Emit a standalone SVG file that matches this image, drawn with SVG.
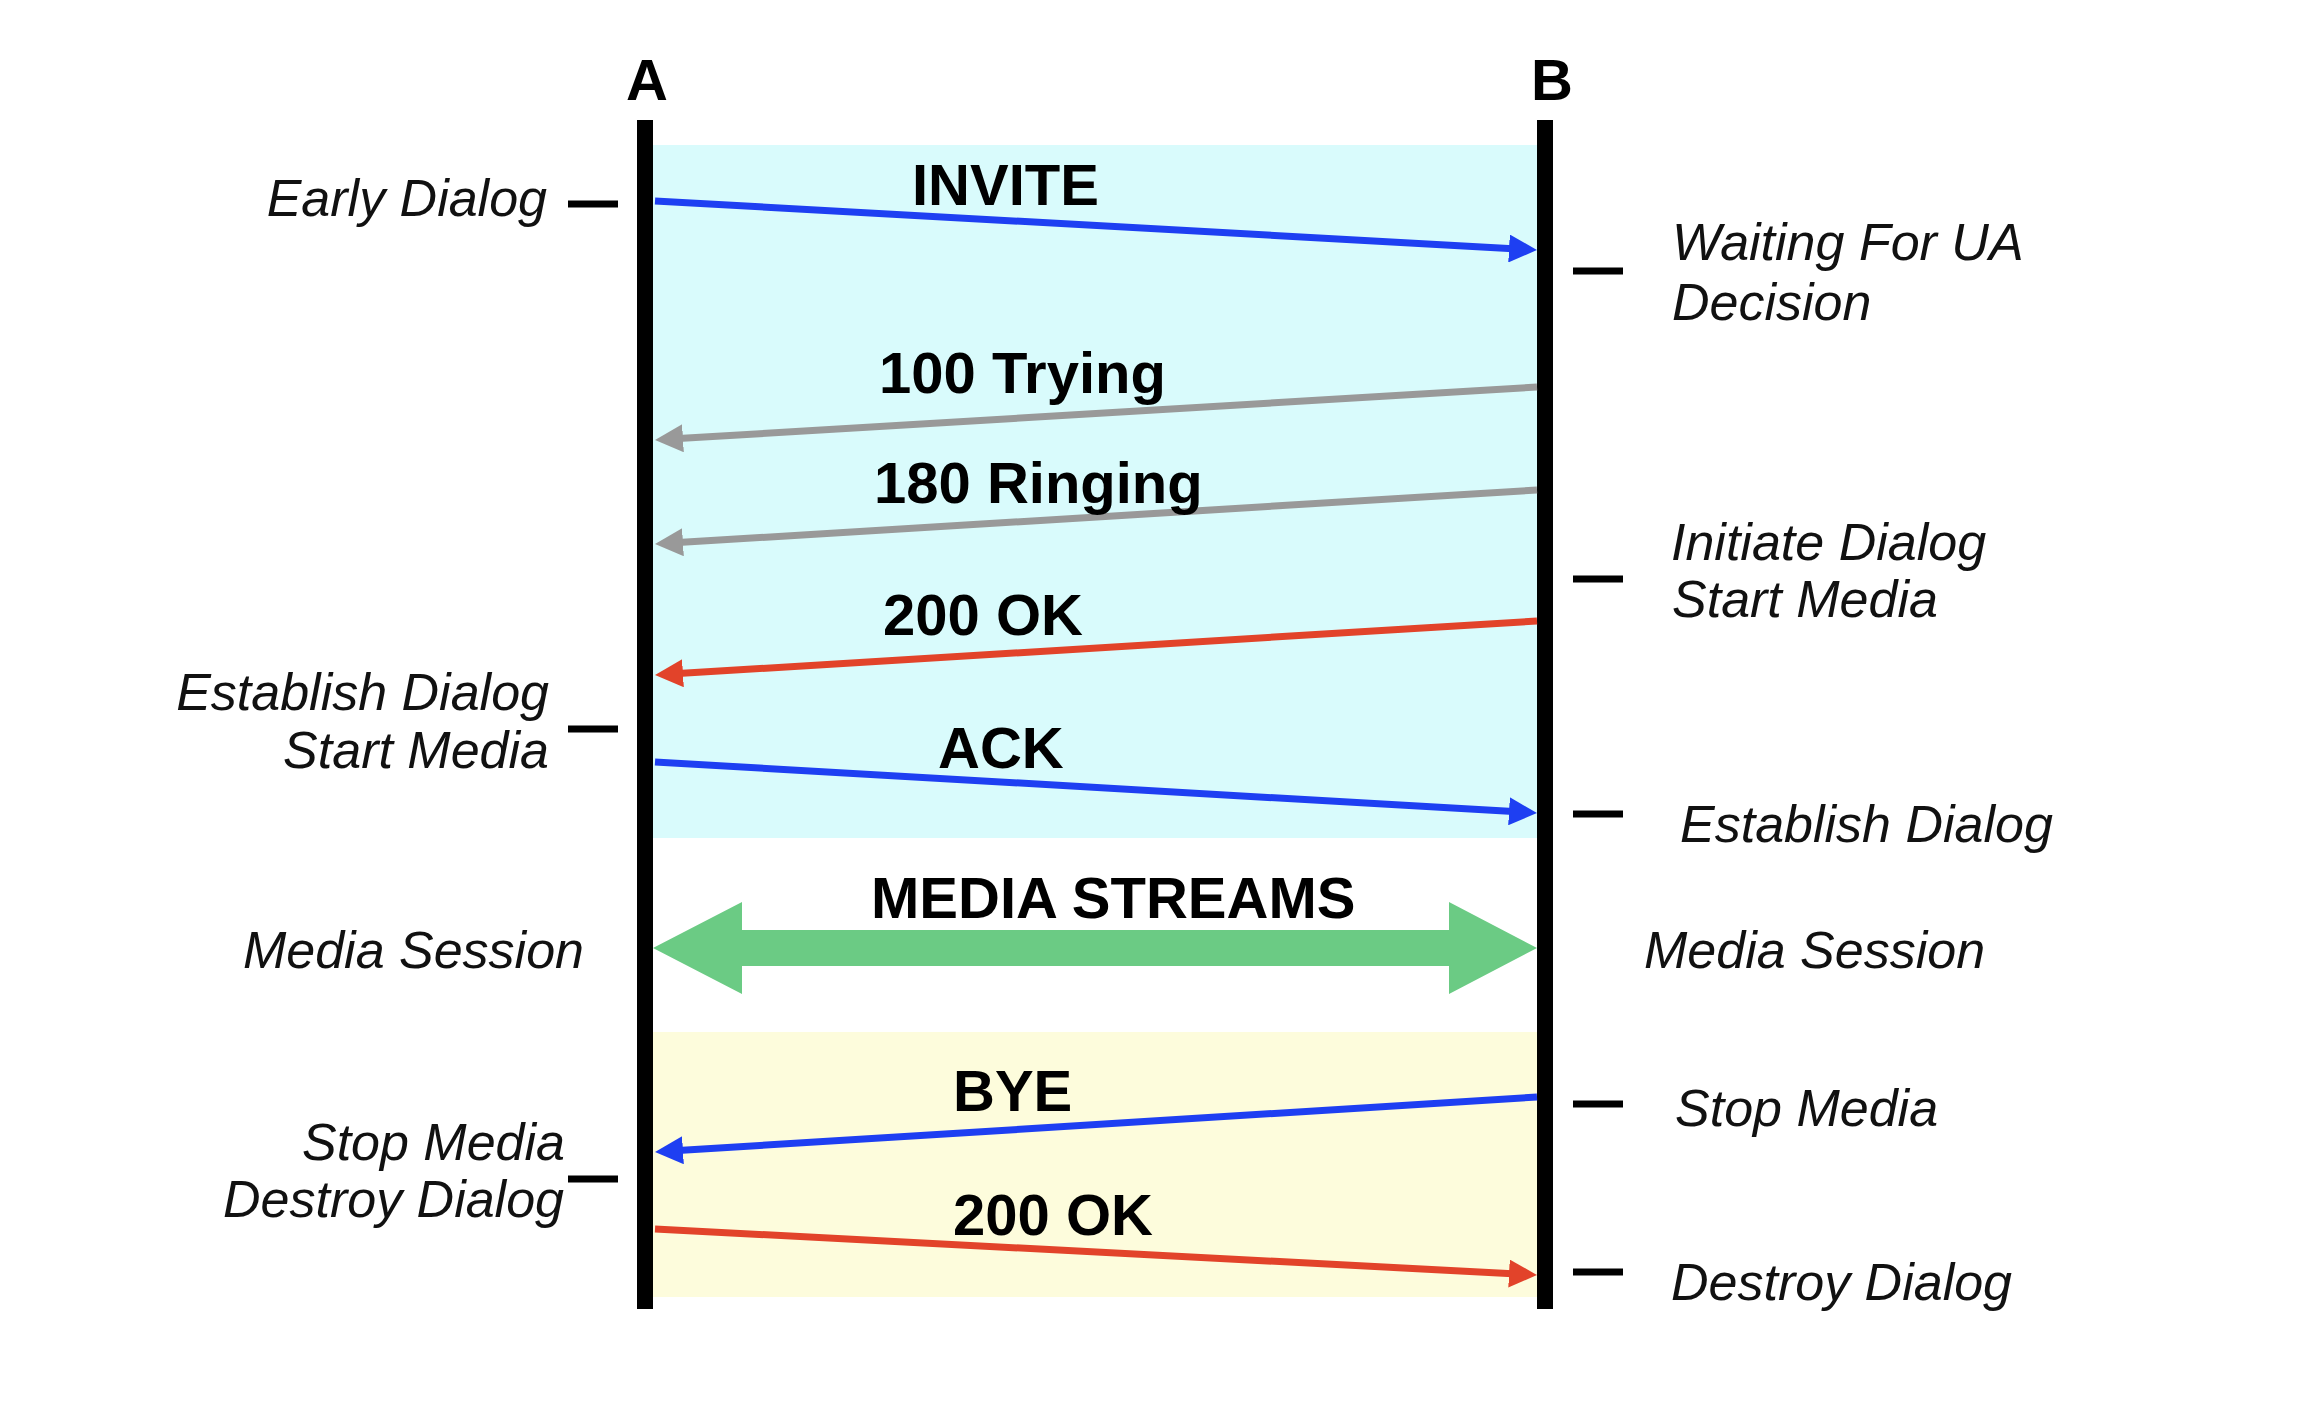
<svg xmlns="http://www.w3.org/2000/svg" width="2306" height="1418" viewBox="0 0 2306 1418">
<style>
.msg{font-family:"Liberation Sans",Arial,sans-serif;font-weight:bold;font-size:58px;fill:#000}
.hdr{font-family:"Liberation Sans",Arial,sans-serif;font-weight:bold;font-size:58px;fill:#000;text-anchor:middle}
.st{font-family:"Liberation Sans",Arial,sans-serif;font-style:italic;font-size:52px;fill:#111}
.end{text-anchor:end}
.life{fill:#000}
.tick{stroke:#000;stroke-width:7}
.arr{fill:none;stroke-width:7}
</style>
<defs>
<marker id="hBlue" markerUnits="userSpaceOnUse" markerWidth="28" markerHeight="28" refX="13" refY="14" orient="auto"><path d="M0,0 L28,14 L0,28 Z" fill="#1e3ff2"/></marker>
<marker id="hGray" markerUnits="userSpaceOnUse" markerWidth="28" markerHeight="28" refX="13" refY="14" orient="auto"><path d="M0,0 L28,14 L0,28 Z" fill="#999999"/></marker>
<marker id="hRed" markerUnits="userSpaceOnUse" markerWidth="28" markerHeight="28" refX="13" refY="14" orient="auto"><path d="M0,0 L28,14 L0,28 Z" fill="#e2432a"/></marker>
</defs>
<rect width="2306" height="1418" fill="#fff"/>
<g id="bands">
<rect x="653" y="145" width="884" height="693" fill="#d9fbfc"/>
<rect x="653" y="1032" width="884" height="265" fill="#fdfcdc"/>
</g>
<g id="nodeA">
<text class="hdr" x="647" y="100">A</text>
<rect class="life" x="637" y="120" width="16" height="1189"/>
</g>
<g id="nodeB">
<text class="hdr" x="1552" y="100">B</text>
<rect class="life" x="1537" y="120" width="16" height="1189"/>
</g>
<g id="statesA">
<line class="tick" x1="568" y1="204" x2="618" y2="204"/>
<text class="st end" x="547" y="216">Early Dialog</text>
<line class="tick" x1="568" y1="729" x2="618" y2="729"/>
<text class="st end" x="549" y="710">Establish Dialog</text>
<text class="st end" x="549" y="768">Start Media</text>
<text class="st end" x="584" y="968">Media Session</text>
<line class="tick" x1="568" y1="1179" x2="618" y2="1179"/>
<text class="st end" x="565" y="1160">Stop Media</text>
<text class="st end" x="564" y="1217">Destroy Dialog</text>
</g>
<g id="statesB">
<line class="tick" x1="1573" y1="271" x2="1623" y2="271"/>
<text class="st" x="1672" y="260">Waiting For UA</text>
<text class="st" x="1672" y="320">Decision</text>
<line class="tick" x1="1573" y1="579" x2="1623" y2="579"/>
<text class="st" x="1671" y="560">Initiate Dialog</text>
<text class="st" x="1672" y="617">Start Media</text>
<line class="tick" x1="1573" y1="814" x2="1623" y2="814"/>
<text class="st" x="1680" y="842">Establish Dialog</text>
<text class="st" x="1644" y="968">Media Session</text>
<line class="tick" x1="1573" y1="1104" x2="1623" y2="1104"/>
<text class="st" x="1675" y="1126">Stop Media</text>
<line class="tick" x1="1573" y1="1272" x2="1623" y2="1272"/>
<text class="st" x="1671" y="1300">Destroy Dialog</text>
</g>
<g id="connectors">
<line class="arr" stroke="#1e3ff2" x1="655" y1="201" x2="1522" y2="249.2" marker-end="url(#hBlue)"/>
<line class="arr" stroke="#999999" x1="1537" y1="387" x2="670" y2="439.1" marker-end="url(#hGray)"/>
<line class="arr" stroke="#999999" x1="1537" y1="490" x2="670" y2="543.1" marker-end="url(#hGray)"/>
<line class="arr" stroke="#e2432a" x1="1537" y1="621" x2="670" y2="674.1" marker-end="url(#hRed)"/>
<line class="arr" stroke="#1e3ff2" x1="655" y1="762" x2="1522" y2="812.1" marker-end="url(#hBlue)"/>
<polygon fill="#6bcb84" points="653,948 742,902 742,930 1449,930 1449,902 1537,948 1449,994 1449,966 742,966 742,994"/>
<line class="arr" stroke="#1e3ff2" x1="1537" y1="1097" x2="670" y2="1151.1" marker-end="url(#hBlue)"/>
<line class="arr" stroke="#e2432a" x1="655" y1="1229" x2="1522" y2="1274.2" marker-end="url(#hRed)"/>
</g>
<g id="labels">
<text class="msg" x="912" y="205">INVITE</text>
<text class="msg" x="879" y="393">100 Trying</text>
<text class="msg" x="874" y="503">180 Ringing</text>
<text class="msg" x="883" y="635">200 OK</text>
<text class="msg" x="938" y="768">ACK</text>
<text class="msg" x="871" y="918">MEDIA STREAMS</text>
<text class="msg" x="953" y="1111">BYE</text>
<text class="msg" x="953" y="1235">200 OK</text>
</g>
</svg>
